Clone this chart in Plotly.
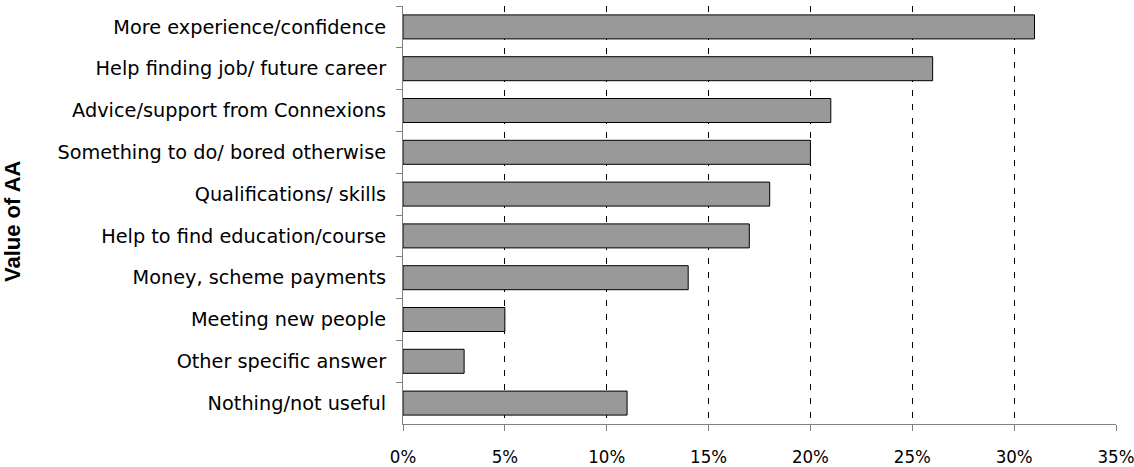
import plotly.graph_objects as go

categories = [
    "More experience/confidence",
    "Help finding job/ future career",
    "Advice/support from Connexions",
    "Something to do/ bored otherwise",
    "Qualifications/ skills",
    "Help to find education/course",
    "Money, scheme payments",
    "Meeting new people",
    "Other specific answer",
    "Nothing/not useful",
]
values = [31, 26, 21, 20, 18, 17, 14, 5, 3, 11]
x_ticks = [0, 5, 10, 15, 20, 25, 30, 35]
x_tick_labels = [f"{v}%" for v in x_ticks]
y_title = "Value of AA"

FONT = "DejaVu Sans"
TICK_FONT = "DejaVu Sans Condensed, DejaVu Sans"
TITLE_FONT = "Liberation Sans, Arial"
W, H = 1134, 467
ML, MR, MT, MB = 403, 18, 6, 43

fig = go.Figure(
    go.Bar(
        x=values,
        y=categories,
        orientation="h",
        marker=dict(color="#999999", line=dict(color="black", width=1)),
        width=0.574,
        hoverinfo="x+y",
    )
)

fig.update_layout(
    width=W,
    height=H,
    margin=dict(l=ML, r=MR, t=MT, b=MB, autoexpand=False),
    paper_bgcolor="white",
    plot_bgcolor="white",
    showlegend=False,
    font=dict(family=FONT, size=19, color="black"),
)

fig.update_xaxes(
    range=[0, 35],
    tickvals=x_ticks,
    ticktext=x_tick_labels,
    showgrid=True,
    gridcolor="black",
    griddash="6px,8px",
    gridwidth=1,
    zeroline=False,
    showline=True,
    linecolor="#808080",
    linewidth=1,
    ticks="outside",
    ticklen=6,
    tickcolor="#808080",
    ticklabelstandoff=10,
    ticklabeloverflow="allow",
    tickfont=dict(family=TICK_FONT, size=18.5, color="black"),
    automargin=False,
)

fig.update_yaxes(
    categoryorder="array",
    categoryarray=categories,
    autorange="reversed",
    showgrid=False,
    zeroline=False,
    showline=True,
    linecolor="#808080",
    linewidth=1,
    ticks="outside",
    tickson="boundaries",
    ticklen=6,
    tickcolor="#808080",
    ticklabelstandoff=12,
    tickfont=dict(family=FONT, size=19.3, color="black"),
    automargin=False,
)

plot_w = W - ML - MR
plot_h = H - MT - MB
fig.add_annotation(
    text=f"<b>{y_title}</b>",
    xref="paper",
    yref="paper",
    x=(13 - ML) / plot_w,
    y=1 - (221 - MT) / plot_h,
    textangle=-90,
    showarrow=False,
    xanchor="center",
    yanchor="middle",
    font=dict(family=TITLE_FONT, size=22, color="black"),
)

fig.write_html("out.html")
